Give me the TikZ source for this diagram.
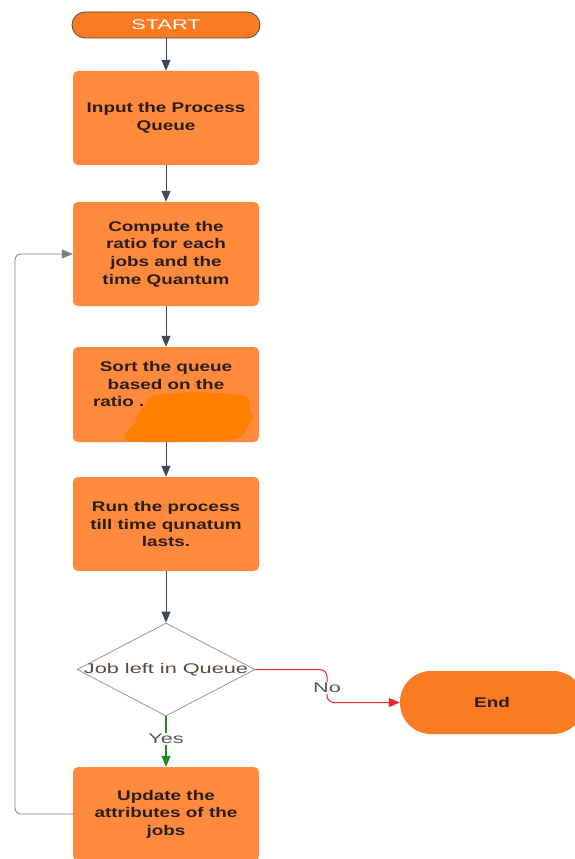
\documentclass[tikz,border=0pt]{standalone}
\usepackage{fontspec}
\setmainfont{Liberation Sans}
\newfontfamily\boxfont{Liberation Sans}[FakeStretch=1.35]
\newfontfamily\widefont{Liberation Sans}[FakeStretch=1.55]
\usetikzlibrary{shapes.geometric,arrows.meta}
\definecolor{boxor}{HTML}{FF8A3D}
\definecolor{termor}{HTML}{FB7A22}
\definecolor{blob}{HTML}{FF8000}
\definecolor{lnk}{HTML}{3F4856}
\definecolor{txtc}{HTML}{2A1E16}
\definecolor{nored}{HTML}{E8262C}
\definecolor{yesgreen}{HTML}{1E8C1E}
\definecolor{lblgray}{HTML}{555555}
\begin{document}
\begin{tikzpicture}[x=1pt,y=-1pt,
  procbox/.style={rectangle, rounded corners=5pt, fill=boxor, draw=none,
    minimum width=186pt, minimum height=94pt, align=center, text=txtc,
    font=\boxfont\bfseries\fontsize{14}{17.6}\selectfont, inner sep=2pt},
  term/.style={rectangle, fill=termor, align=center},
  decshape/.style={diamond, draw=gray!80, line width=0.8pt, fill=white,
    minimum width=178pt, minimum height=93pt, inner sep=0pt},
  arr/.style={draw=lnk, line width=1pt, -{Triangle[length=11pt,width=9pt]}},
  loopline/.style={draw=lnk!70, line width=0.8pt, rounded corners=6pt, -{Triangle[length=11pt,width=9pt]}},
  lbl/.style={fill=white, text=lblgray, font=\widefont\fontsize{14}{16}\selectfont, inner sep=1pt}
]
\useasboundingbox (0,0) rectangle (575,859);
\clip (0,0) rectangle (575,859);
\fill[white] (0,0) rectangle (575,859);

\node[term, minimum width=188pt, minimum height=26pt, rounded corners=13pt, draw=txtc!80, line width=0.8pt,
  text=white, font=\widefont\fontsize{14}{16}\selectfont] (start) at (166,25) {START};
\node[procbox] (b1) at (166,118) {Input the Process\\Queue};
\node[procbox, minimum height=104pt] (b2) at (166,254) {Compute the\\ratio for each\\jobs and the\\time Quantum};
\node[procbox, minimum height=95pt] (b3) at (166,394.5) {};
\node[text=txtc, font=\boxfont\bfseries\fontsize{14}{17.6}\selectfont, align=center] (b3t) at (166,384) {Sort the queue\\based on the\\\makebox[146pt][l]{ratio .}};
\fill[blob] (152,396) .. controls (175,391) and (215,391) .. (246,396)
  .. controls (254,402) and (246,408) .. (252,414)
  .. controls (256,422) and (244,426) .. (246,432)
  .. controls (240,440) and (225,441) .. (210,441)
  .. controls (185,442) and (150,443) .. (126,441)
  .. controls (121,434) and (130,428) .. (136,422)
  .. controls (134,414) and (142,410) .. (146,404)
  .. controls (146,400) and (148,398) .. (152,396) -- cycle;
\node[procbox] (b4) at (166,524) {Run the process\\till time qunatum\\lasts.};
\node[decshape] (dec) at (166,669.5) {};
\node[text=txtc!80, font=\widefont\fontsize{14}{16}\selectfont] (dect) at (dec) {Job left in Queue};
\node[term, minimum width=184pt, minimum height=63pt, rounded corners=31pt,
  text=txtc, font=\boxfont\bfseries\fontsize{14}{16}\selectfont] (end) at (492,702.5) {End};
\node[procbox, minimum height=94pt] (b5) at (166,814) {Update the\\attributes of the\\jobs};

\draw[arr] (start) -- (b1);
\draw[arr] (b1) -- (b2);
\draw[arr] (b2) -- (b3);
\draw[arr] (b3) -- (b4);
\draw[arr] (b4) -- (dec);
\draw[draw=yesgreen, line width=1.2pt, -{Triangle[length=11pt,width=9pt]}] (dec.south) -- node[lbl, pos=0.45] (yes) {Yes} (b5.north);
\coordinate (nc) at (327,688);
\draw[draw=nored, line width=1pt, rounded corners=7pt, -{Triangle[length=11pt,width=9pt]}] (dec.east) -| (nc) |- (end.west);
\node[lbl] (no) at (nc) {No};
\coordinate (lp) at (15,530);
\draw[loopline] (b5.west) -| (lp) |- (b2.west);
\end{tikzpicture}
\end{document}
